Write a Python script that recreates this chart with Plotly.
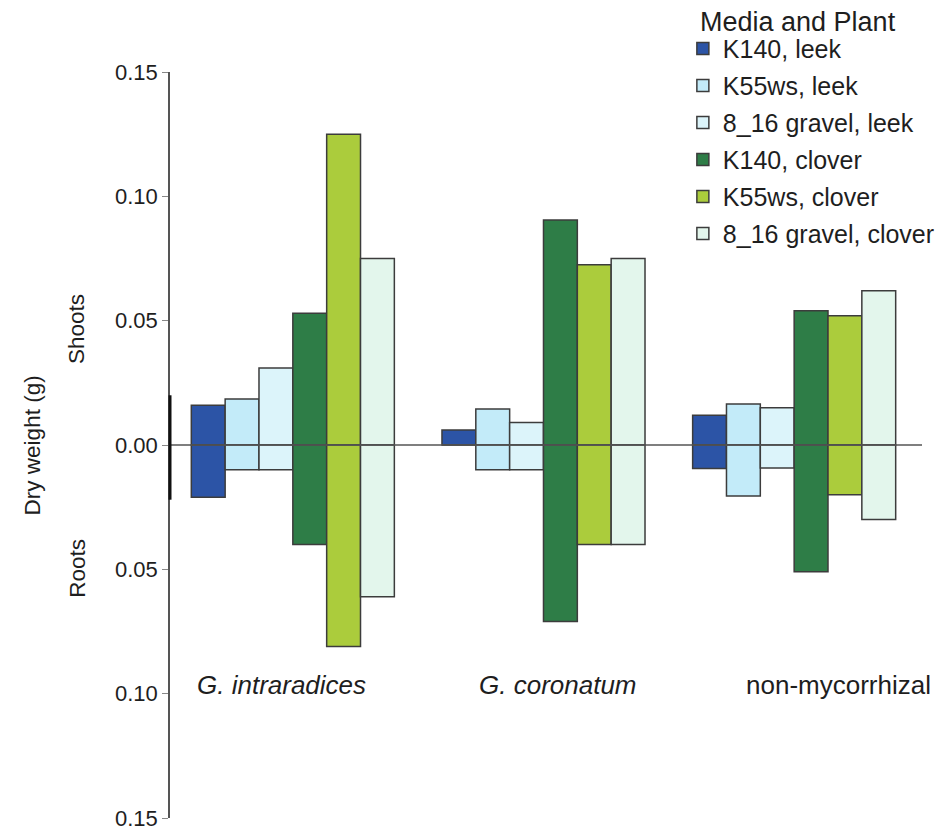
import plotly.graph_objects as go

# Fungal inoculum groups along the x axis
groups = ["G. intraradices", "G. coronatum", "non-mycorrhizal"]
group_labels = ["<i>G. intraradices</i>", "<i>G. coronatum</i>", "non-mycorrhizal"]

# Growth medium / host plant combinations
series = ["K140, leek", "K55ws, leek", "8_16 gravel, leek",
          "K140, clover", "K55ws, clover", "8_16 gravel, clover"]

# Shoot dry weight (g), one value per group, per series
shoot_k140_leek = [0.016, 0.006, 0.012]
shoot_k55ws_leek = [0.0185, 0.0145, 0.0165]
shoot_gravel_leek = [0.031, 0.009, 0.015]
shoot_k140_clover = [0.053, 0.0905, 0.054]
shoot_k55ws_clover = [0.125, 0.0725, 0.052]
shoot_gravel_clover = [0.075, 0.075, 0.062]

# Root dry weight (g), drawn downward from zero
root_k140_leek = [0.021, 0.0, 0.0095]
root_k55ws_leek = [0.010, 0.010, 0.0205]
root_gravel_leek = [0.010, 0.010, 0.0092]
root_k140_clover = [0.040, 0.071, 0.051]
root_k55ws_clover = [0.081, 0.040, 0.020]
root_gravel_clover = [0.061, 0.040, 0.030]

# Axis ticks: magnitudes are shown without sign on both halves
tick_vals = [0.15, 0.10, 0.05, 0.0, -0.05, -0.10, -0.15]
tick_text = ["0.15", "0.10", "0.05", "0.00", "0.05", "0.10", "0.15"]

shoots = [shoot_k140_leek, shoot_k55ws_leek, shoot_gravel_leek,
          shoot_k140_clover, shoot_k55ws_clover, shoot_gravel_clover]
roots = [root_k140_leek, root_k55ws_leek, root_gravel_leek,
         root_k140_clover, root_k55ws_clover, root_gravel_clover]

colors = ["#2c54a6", "#c3ebf9", "#dcf4fa", "#2e7d47", "#abcc3c", "#e3f6ec"]
outline = "#3c3c3c"
FONT = "Liberation Sans, Arial, Helvetica, sans-serif"
TEXT = "#1e1e1e"

fig = go.Figure()
for i, name in enumerate(series):
    fig.add_trace(go.Bar(
        x=groups, y=shoots[i], name=name, offsetgroup=str(i),
        legendgroup=name, marker=dict(color=colors[i], line=dict(color=outline, width=1.5)),
        hoverinfo="skip",
    ))
    fig.add_trace(go.Bar(
        x=groups, y=[-v for v in roots[i]], name=name, offsetgroup=str(i),
        legendgroup=name, showlegend=False,
        marker=dict(color=colors[i], line=dict(color=outline, width=1.5)),
        hoverinfo="skip",
    ))

annotations = []
shifts = [-11, 15, 44]
for g, lab, dx in zip(groups, group_labels, shifts):
    annotations.append(dict(x=g, y=-0.0965, xref="x", yref="y", text=lab, showarrow=False,
                            xshift=dx, font=dict(family=FONT, size=26, color=TEXT)))

annotations += [
    dict(x=-0.183, y=0.5, xref="paper", yref="paper", text="Dry weight (g)", textangle=-90,
         xanchor="center", yanchor="middle", showarrow=False,
         font=dict(family=FONT, size=22.5, color=TEXT)),
    dict(x=-0.124, y=0.655, xref="paper", yref="paper", text="Shoots", textangle=-90,
         xanchor="center", yanchor="middle", showarrow=False,
         font=dict(family=FONT, size=22.5, color=TEXT)),
    dict(x=-0.124, y=0.335, xref="paper", yref="paper", text="Roots", textangle=-90,
         xanchor="center", yanchor="middle", showarrow=False,
         font=dict(family=FONT, size=22.5, color=TEXT)),
    # legend heading
    dict(x=0.702, y=1.067, xref="paper", yref="paper", text="Media and Plant",
         xanchor="left", yanchor="middle", showarrow=False,
         font=dict(family=FONT, size=27, color=TEXT)),
]

fig.update_layout(
    width=939, height=834,
    margin=dict(l=170, r=17, t=72, b=16, autoexpand=False),
    paper_bgcolor="white", plot_bgcolor="white",
    barmode="group", bargap=0.19, bargroupgap=0,
    font=dict(family=FONT, size=22, color=TEXT),
    showlegend=True,
    legend=dict(
        x=0.682, y=1.062, xanchor="left", yanchor="top",
        font=dict(family=FONT, size=25, color=TEXT),
        bgcolor="rgba(0,0,0,0)", itemwidth=30, tracegroupgap=1.5,
    ),
    annotations=annotations,
    shapes=[
        dict(type="line", xref="paper", yref="y", x0=0, x1=1, y0=0, y1=0,
             line=dict(color="#555555", width=1.5), layer="above"),
        # heavier stroke on the axis around zero
        dict(type="line", xref="paper", yref="y", x0=0, x1=0, y0=0.02, y1=-0.022,
             line=dict(color="#111111", width=3), layer="above"),
    ],
)

fig.update_xaxes(range=[-0.49, 2.51], showticklabels=False, showline=False,
                 showgrid=False, zeroline=False, ticks="")
fig.update_yaxes(range=[-0.15, 0.15], tickvals=tick_vals, ticktext=tick_text,
                 showline=True, linecolor="#555555", linewidth=1.5,
                 ticks="outside", ticklen=6, tickcolor="#888888", tickwidth=1,
                 showgrid=False, zeroline=False,
                 tickfont=dict(family=FONT, size=22, color=TEXT))

fig.write_html("out.html")
